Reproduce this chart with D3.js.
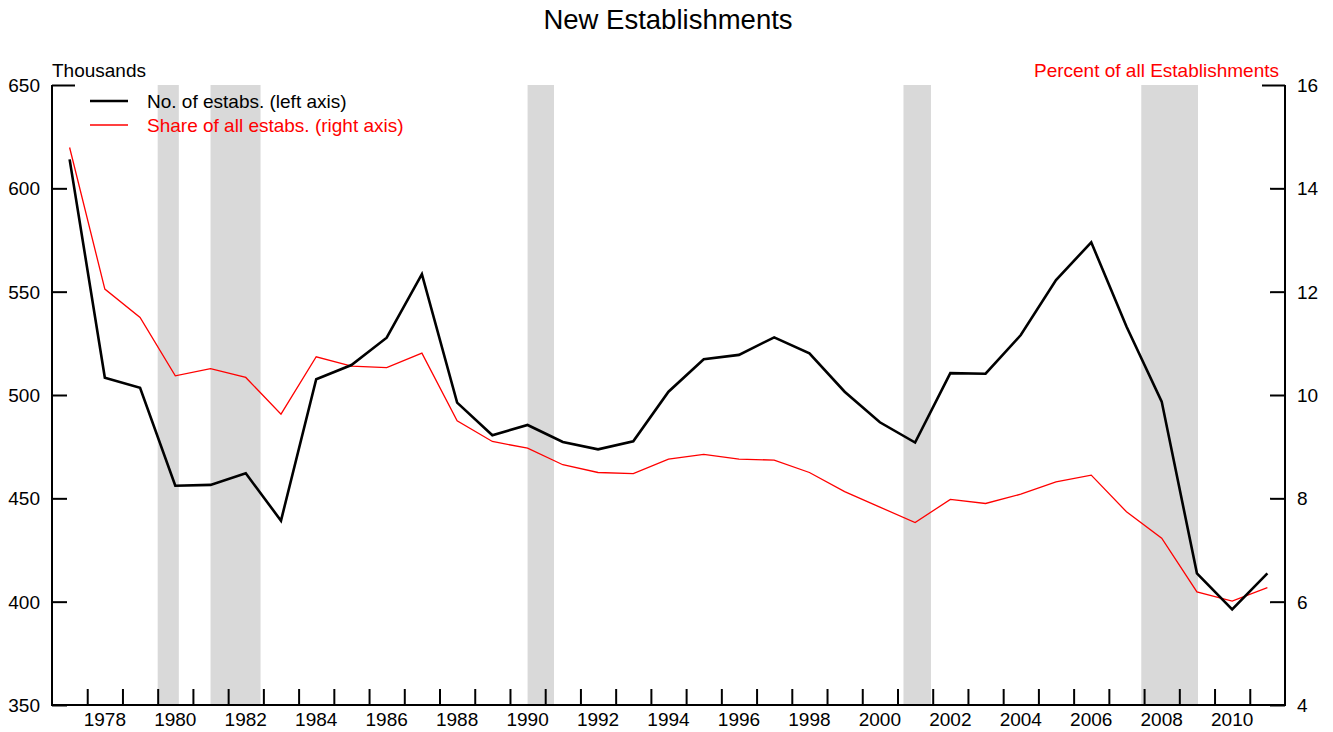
<!DOCTYPE html>
<html>
<head>
<meta charset="utf-8">
<script src="https://cdn.jsdelivr.net/npm/d3@7"></script>
<style>
  body { margin: 0; background: #fff; }
  text { font-family: "Liberation Sans", Arial, sans-serif; }
</style>
</head>
<body>
<div id="chart"></div>
<script>
// data
const years = d3.range(1977, 2012);
const estabs = [614, 508.4, 503.5, 456.1, 456.5, 462.1, 439.2, 507.6, 514.5, 527.7,
  558.5, 496.3, 480.5, 485.5, 477.3, 473.7, 477.6, 501.6, 517.3, 519.4,
  527.9, 520.2, 501.6, 486.8, 477, 510.6, 510.3, 529, 555.6, 573.9,
  533.1, 496.8, 413.7, 396.3, 413.7];
const share = [14.79, 12.05, 11.5, 10.37, 10.51, 10.34, 9.63, 10.74, 10.56, 10.53,
  10.81, 9.5, 9.1, 8.97, 8.65, 8.5, 8.48, 8.76, 8.85, 8.76,
  8.74, 8.5, 8.13, 7.83, 7.53, 7.98, 7.9, 8.08, 8.32, 8.45,
  7.74, 7.23, 6.19, 6.01, 6.27];
// recessions, in the chart's year coordinate (points sit at the year number)
const recessions = [[1979.5, 1980.1], [1981.0, 1982.42], [1990.0, 1990.75],
  [2000.67, 2001.45], [2007.42, 2009.03]];
const leftTicks = [350, 400, 450, 500, 550, 600, 650];
const rightTicks = [4, 6, 8, 10, 12, 14, 16];
const yearLabels = d3.range(1978, 2011, 2);

const width = 1333, height = 732;
const m = { left: 52, right: 1285, top: 85, bottom: 705 };
const fs = 19;

const svg = d3.select('#chart').append('svg')
  .attr('width', width)
  .attr('height', height);

const x = d3.scaleLinear().domain([1976.5, 2011.5]).range([m.left, m.right]);
const yL = d3.scaleLinear().domain([350, 650]).range([m.bottom, m.top]);
const yR = d3.scaleLinear().domain([4, 16]).range([m.bottom, m.top]);

// recession bars
svg.selectAll('rect.rec')
  .data(recessions)
  .enter()
  .append('rect')
  .attr('x', d => x(d[0]))
  .attr('y', m.top)
  .attr('width', d => x(d[1]) - x(d[0]))
  .attr('height', m.bottom - m.top)
  .attr('fill', '#d9d9d9');

// title
svg.append('text')
  .attr('x', 668).attr('y', 29)
  .attr('text-anchor', 'middle')
  .attr('font-size', 27.5)
  .text('New Establishments');

svg.append('text')
  .attr('x', m.left).attr('y', 77)
  .attr('font-size', fs)
  .text('Thousands');

svg.append('text')
  .attr('x', 1279).attr('y', 77)
  .attr('text-anchor', 'end')
  .attr('font-size', fs)
  .attr('fill', '#ff0000')
  .text('Percent of all Establishments');

// left axis
const gL = svg.append('g').attr('transform', `translate(${m.left},0)`);
gL.call(d3.axisRight(yL).tickValues(leftTicks).tickFormat(''))
  .call(g => g.select('.domain').remove());
gL.selectAll('.tick line')
  .attr('x2', d => d === 650 ? 23 : 15)
  .attr('stroke', '#000').attr('stroke-width', 2);
gL.selectAll('.tick')
  .append('text')
  .attr('x', -12).attr('dy', '0.35em')
  .attr('text-anchor', 'end')
  .attr('font-size', fs)
  .attr('fill', '#000')
  .text(d => d);

// right axis
const gR = svg.append('g').attr('transform', `translate(${m.right},0)`);
gR.call(d3.axisLeft(yR).tickValues(rightTicks).tickFormat(''))
  .call(g => g.select('.domain').remove());
gR.selectAll('.tick line')
  .attr('x2', d => d === 16 ? -23 : -15)
  .attr('stroke', '#000').attr('stroke-width', 2);
gR.selectAll('.tick')
  .append('text')
  .attr('x', 12).attr('dy', '0.35em')
  .attr('text-anchor', 'start')
  .attr('font-size', fs)
  .attr('fill', '#000')
  .text(d => d);

// bottom axis: ticks between years, labels under even years
const gB = svg.append('g').attr('transform', `translate(0,${m.bottom})`);
gB.call(d3.axisTop(x).tickValues(d3.range(1977.5, 2011, 1)).tickFormat('').tickSize(16))
  .call(g => g.select('.domain').remove());
gB.selectAll('.tick line').attr('stroke', '#000').attr('stroke-width', 2);
gB.selectAll('text.yr')
  .data(yearLabels)
  .enter()
  .append('text')
  .attr('class', 'yr')
  .attr('x', d => x(d))
  .attr('y', 21)
  .attr('text-anchor', 'middle')
  .attr('font-size', fs)
  .attr('fill', '#000')
  .text(d => d);

// frame lines (left, bottom, right)
svg.append('path')
  .attr('d', `M${m.left},${m.top}V${m.bottom}H${m.right}V${m.top}`)
  .attr('fill', 'none')
  .attr('stroke', '#000')
  .attr('stroke-width', 2);

// series
const lineL = d3.line().x((d, i) => x(years[i])).y(d => yL(d));
const lineR = d3.line().x((d, i) => x(years[i])).y(d => yR(d));

svg.append('path')
  .datum(share)
  .attr('d', lineR)
  .attr('fill', 'none')
  .attr('stroke', '#ff0000')
  .attr('stroke-width', 1.3);

svg.append('path')
  .datum(estabs)
  .attr('d', lineL)
  .attr('fill', 'none')
  .attr('stroke', '#000')
  .attr('stroke-width', 2.6);

// legend
const legend = [
  { label: 'No. of estabs. (left axis)', color: '#000', w: 2.6, y: 101 },
  { label: 'Share of all estabs. (right axis)', color: '#ff0000', w: 1.3, y: 125 }
];
const lg = svg.selectAll('g.lg')
  .data(legend)
  .enter()
  .append('g')
  .attr('class', 'lg');
lg.append('line')
  .attr('x1', 90).attr('x2', 128)
  .attr('y1', d => d.y).attr('y2', d => d.y)
  .attr('stroke', d => d.color)
  .attr('stroke-width', d => d.w);
lg.append('text')
  .attr('x', 147).attr('y', d => d.y)
  .attr('dy', '0.35em')
  .attr('font-size', fs)
  .attr('fill', d => d.color)
  .text(d => d.label);
</script>
</body>
</html>
